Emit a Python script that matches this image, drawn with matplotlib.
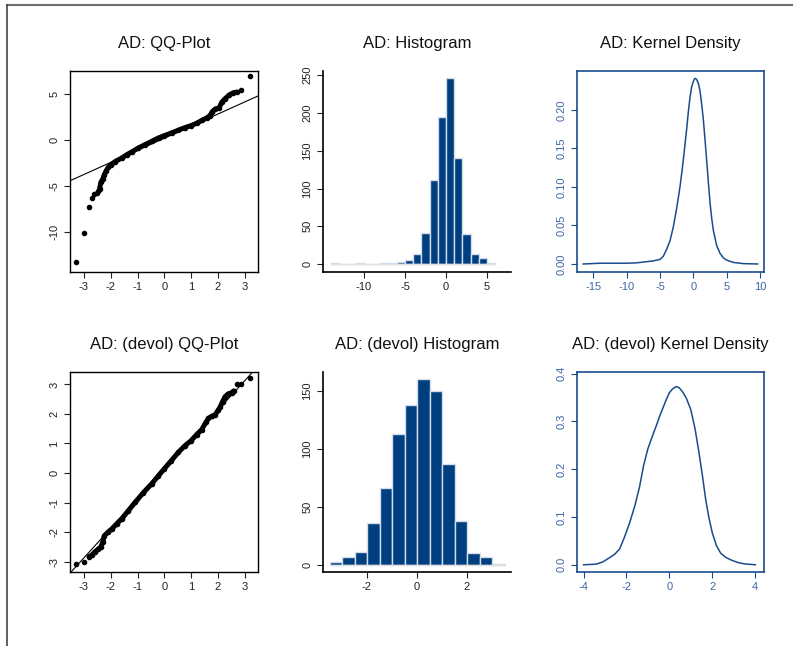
import matplotlib
matplotlib.use("Agg")
import matplotlib.pyplot as plt
from matplotlib.lines import Line2D
from matplotlib.ticker import FormatStrFormatter

plt.rcParams['font.family'] = ['Liberation Sans', 'DejaVu Sans']
plt.rcParams['axes.unicode_minus'] = False

# ---------------- data ----------------
# Top QQ plot (AD): isolated points and the dense band of points
qq1_tail_theo = [-3.30, -2.98, -2.81, -2.70, -2.61, -2.52, -2.46, 2.86, 3.19]
qq1_tail_samp = [-13.36, -10.18, -7.30, -6.39, -5.91, -5.75, -5.55, 5.40, 6.93]
qq1_band_theo = [-2.42, -2.37, -2.30, -2.24, -2.17, -2.09, -1.99, -1.84, -1.59, -1.40,
                 -1.22, -0.97, -0.72, -0.47, -0.22, 0.00, 0.27, 0.52, 0.77, 1.00,
                 1.20, 1.39, 1.58, 1.70, 1.79, 1.89, 2.04, 2.14, 2.26, 2.41, 2.57, 2.70]
qq1_band_samp = [-5.36, -4.64, -4.27, -3.80, -3.36, -2.99, -2.70, -2.37, -1.97, -1.61,
                 -1.31, -0.88, -0.51, -0.15, 0.22, 0.47, 0.77, 1.06, 1.35, 1.57,
                 1.82, 2.12, 2.41, 2.66, 3.10, 3.36, 3.50, 4.12, 4.49, 4.89, 5.15, 5.22]
qq1_line_intercept = 0.19
qq1_line_slope = 1.32

# Bottom QQ plot (devol)
qq2_tail_theo = [-3.30, -2.98, 2.72, 2.86, 3.19]
qq2_tail_samp = [-3.09, -3.02, 3.01, 3.01, 3.20]
qq2_band_theo = [-2.81, -2.71, -2.58, -2.46, -2.37, -2.30, -2.24, -2.10, -1.96, -1.78,
                 -1.59, -1.35, -1.09, -0.78, -0.47, -0.23, 0.00, 0.26, 0.52, 0.76,
                 1.00, 1.20, 1.39, 1.55, 1.64, 1.78, 1.89, 2.00, 2.07, 2.17, 2.26,
                 2.38, 2.51, 2.58]
qq2_band_samp = [-2.83, -2.78, -2.66, -2.57, -2.50, -2.34, -2.12, -2.00, -1.89, -1.72,
                 -1.55, -1.28, -0.99, -0.66, -0.36, -0.10, 0.15, 0.42, 0.70, 0.92,
                 1.10, 1.30, 1.47, 1.72, 1.85, 1.93, 1.97, 2.12, 2.22, 2.42, 2.58,
                 2.68, 2.72, 2.78]
qq2_line_intercept = 0.13
qq2_line_slope = 1.0

# Top histogram (AD): bin edges and counts
hist1_edges = [-14, -13, -12, -11, -10, -9, -8, -7, -6, -5, -4, -3, -2, -1, 0,
               1, 2, 3, 4, 5, 6]
hist1_counts = [1, 0, 0, 1, 0, 0, 1, 1, 3, 6, 13, 41, 111, 194, 246, 140, 40, 13, 8, 1]

# Bottom histogram (devol)
hist2_edges = [-3.5, -3.0, -2.5, -2.0, -1.5, -1.0, -0.5, 0.0, 0.5, 1.0, 1.5, 2.0,
               2.5, 3.0, 3.5]
hist2_counts = [2, 7, 11, 36, 66, 113, 138, 160, 150, 87, 38, 10, 7, 1]

# Top kernel density (AD)
kde1_x = [-16.5, -14, -12, -10, -8.5, -7, -6, -5, -4.5, -4, -3.5, -3, -2.5, -2,
          -1.75, -1.5, -1.25, -1, -0.75, -0.5, -0.25, 0, 0.15, 0.3, 0.45, 0.6, 0.8,
          1.0, 1.25, 1.5, 1.75, 2.0, 2.25, 2.5, 2.75, 3.0, 3.5, 4.0, 4.5, 5.0, 6.0,
          7.5, 9.65]
kde1_y = [0.000, 0.001, 0.001, 0.001, 0.0015, 0.003, 0.004, 0.006, 0.010, 0.019,
          0.030, 0.048, 0.072, 0.100, 0.117, 0.135, 0.155, 0.175, 0.197, 0.216,
          0.230, 0.237, 0.240, 0.241, 0.240, 0.238, 0.233, 0.225, 0.208, 0.188,
          0.162, 0.135, 0.107, 0.080, 0.060, 0.044, 0.024, 0.014, 0.008, 0.005,
          0.002, 0.0005, 0.000]

# Bottom kernel density (devol)
kde2_x = [-4.0, -3.7, -3.4, -3.1, -2.78, -2.55, -2.32, -2.1, -1.85, -1.6, -1.39,
          -1.2, -1.0, -0.8, -0.6, -0.46, -0.3, -0.15, 0.0, 0.15, 0.31, 0.45, 0.62,
          0.8, 1.0, 1.1, 1.2, 1.3, 1.39, 1.55, 1.70, 1.85, 2.01, 2.2, 2.4, 2.65,
          2.93, 3.25, 3.55, 4.02]
kde2_y = [0.000, 0.0005, 0.0014, 0.006, 0.015, 0.022, 0.033, 0.057, 0.088, 0.125,
          0.163, 0.208, 0.243, 0.268, 0.292, 0.310, 0.328, 0.345, 0.360, 0.368,
          0.373, 0.371, 0.362, 0.348, 0.325, 0.305, 0.285, 0.258, 0.233, 0.185,
          0.136, 0.098, 0.066, 0.040, 0.024, 0.015, 0.009, 0.004, 0.0015, 0.000]

titles = ["AD: QQ-Plot", "AD: Histogram", "AD: Kernel Density",
          "AD: (devol) QQ-Plot", "AD: (devol) Histogram", "AD: (devol) Kernel Density"]

# ---------------- styling ----------------
W, H = 794, 646
fig = plt.figure(figsize=(W / 100, H / 100), dpi=100)

def rect(x0, x1, y0, y1):
    return [x0 / W, 1 - y1 / H, (x1 - x0) / W, (y1 - y0) / H]

cols = [(70, 258), (323, 511), (577, 764)]
rows = [(71, 272), (372, 572)]

TXT = '#222222'
BLUE_LINE = '#1a4c8c'
BLUE_TXT = '#3d66a3'
BAR = '#003f7f'
BAR_EDGE = '#d3dcea'

def style_ticks(ax, color=TXT, tcolor='#222222'):
    ax.tick_params(direction='out', length=4.5, width=0.8, labelsize=8, pad=3,
                   colors=tcolor, labelcolor=color)
    for lab in ax.get_yticklabels():
        lab.set_rotation(90)
        lab.set_va('center')

def title(ax, t):
    ax.set_title(t, fontsize=12, color='#111111', pad=16.5)

def qq(ax, tt, ts, bt, bs, b0, b1, xlim, ylim, yticks):
    ax.plot(bt, bs, color='k', lw=3.6, solid_capstyle='round', solid_joinstyle='round')
    ax.plot(tt + bt, ts + bs, 'o', color='k', ms=3.0, mec='k')
    ax.axline((0, b0), slope=b1, color='k', lw=0.8)
    ax.set_xlim(*xlim)
    ax.set_ylim(*ylim)
    ax.set_xticks([-3, -2, -1, 0, 1, 2, 3])
    ax.set_yticks(yticks)
    for s in ax.spines.values():
        s.set_linewidth(1.0)
    style_ticks(ax)

def hist(ax, edges, counts, xlim, ylim, xticks, yticks):
    lefts = edges[:-1]
    widths = [edges[i + 1] - edges[i] for i in range(len(counts))]
    ax.bar(lefts, counts, width=widths, align='edge', color=BAR,
           edgecolor=BAR_EDGE, linewidth=1.0, zorder=2)
    ax.hlines(0, edges[0], edges[-1], color='#e0e0e0', lw=1.0, zorder=3)
    ax.set_xlim(*xlim)
    ax.set_ylim(*ylim)
    ax.set_xticks(xticks)
    ax.set_yticks(yticks)
    ax.spines['top'].set_visible(False)
    ax.spines['right'].set_visible(False)
    for s in ('left', 'bottom'):
        ax.spines[s].set_linewidth(1.2)
    style_ticks(ax)

def kde(ax, x, y, xlim, ylim, xticks, yticks, fmt):
    ax.plot(x, y, color=BLUE_LINE, lw=1.1, solid_joinstyle='round')
    ax.set_xlim(*xlim)
    ax.set_ylim(*ylim)
    ax.set_xticks(xticks)
    ax.set_yticks(yticks)
    ax.yaxis.set_major_formatter(FormatStrFormatter(fmt))
    for s in ax.spines.values():
        s.set_color(BLUE_LINE)
        s.set_linewidth(1.2)
    style_ticks(ax, color=BLUE_TXT, tcolor=BLUE_LINE)

# Top row
ax = fig.add_axes(rect(*cols[0], *rows[0]))
qq(ax, qq1_tail_theo, qq1_tail_samp, qq1_band_theo, qq1_band_samp,
   qq1_line_intercept, qq1_line_slope, (-3.52, 3.49), (-14.41, 7.52), [-10, -5, 0, 5])
title(ax, titles[0])

ax = fig.add_axes(rect(*cols[1], *rows[0]))
hist(ax, hist1_edges, hist1_counts, (-15.0, 7.93), (-10.5, 255.5),
     [-10, -5, 0, 5], [0, 50, 100, 150, 200, 250])
title(ax, titles[1])

ax = fig.add_axes(rect(*cols[2], *rows[0]))
kde(ax, kde1_x, kde1_y, (-17.44, 10.6), (-0.0104, 0.2506),
    [-15, -10, -5, 0, 5, 10], [0, 0.05, 0.10, 0.15, 0.20], '%.2f')
title(ax, titles[2])

# Bottom row
ax = fig.add_axes(rect(*cols[0], *rows[1]))
qq(ax, qq2_tail_theo, qq2_tail_samp, qq2_band_theo, qq2_band_samp,
   qq2_line_intercept, qq2_line_slope, (-3.52, 3.49), (-3.35, 3.42), [-3, -2, -1, 0, 1, 2, 3])
title(ax, titles[3])

ax = fig.add_axes(rect(*cols[1], *rows[1]))
hist(ax, hist2_edges, hist2_counts, (-3.76, 3.76), (-6.2, 166.4),
     [-2, 0, 2], [0, 50, 100, 150])
title(ax, titles[4])

ax = fig.add_axes(rect(*cols[2], *rows[1]))
kde(ax, kde2_x, kde2_y, (-4.31, 4.42), (-0.0152, 0.4035),
    [-4, -2, 0, 2, 4], [0, 0.1, 0.2, 0.3, 0.4], '%.1f')
title(ax, titles[5])

# Frame lines (top and left)
fig.add_artist(Line2D([7 / W, 792 / W], [1 - 5 / H, 1 - 5 / H], transform=fig.transFigure,
                      color='#6e6e6e', lw=1.5))
fig.add_artist(Line2D([7 / W, 7 / W], [0, 1 - 5 / H], transform=fig.transFigure,
                      color='#444444', lw=1.2))

fig.savefig("out.png", dpi=100)
